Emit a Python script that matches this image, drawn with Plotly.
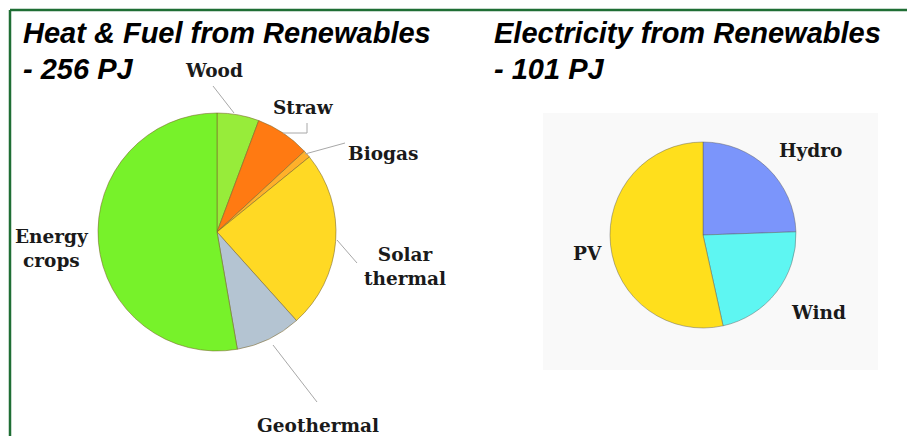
import plotly.graph_objects as go

W, H = 907, 436

# ---- data ----
heat_labels = ["Wood", "Straw", "Biogas", "Solar thermal", "Geothermal", "Energy crops"]
heat_values = [14.6, 19.0, 2.6, 62.0, 22.8, 135.0]          # PJ, total ~256
heat_colors = ["#97ec3a", "#ff7a12", "#ffb02a", "#ffd924", "#b4c4d2", "#77f22a"]

elec_labels = ["Hydro", "Wind", "PV"]
elec_values = [24.7, 22.3, 54.0]                             # PJ, total ~101
elec_colors = ["#7b95fb", "#5ef6f2", "#ffdf1c"]

title_lines = [["Heat & Fuel from Renewables", "- 256 PJ"],
               ["Electricity from Renewables", "- 101 PJ"]]


def px_x(x):
    return x / W


def px_y(y):
    return 1 - y / H


fig = go.Figure()

fig.add_trace(go.Pie(
    labels=heat_labels, values=heat_values, sort=False, direction="clockwise",
    rotation=0, textinfo="none", hoverinfo="label+value+percent",
    marker=dict(colors=heat_colors, line=dict(color="rgba(120,100,40,0.55)", width=1)),
    domain=dict(x=[px_x(98), px_x(336)], y=[px_y(351), px_y(113)]),
    showlegend=False,
))
fig.add_trace(go.Pie(
    labels=elec_labels, values=elec_values, sort=False, direction="clockwise",
    rotation=0, textinfo="none", hoverinfo="label+value+percent",
    marker=dict(colors=elec_colors, line=dict(color="rgba(90,90,90,0.45)", width=1)),
    domain=dict(x=[px_x(610), px_x(796)], y=[px_y(328), px_y(142)]),
    showlegend=False,
))

shapes = []
# faint panel behind right pie
shapes.append(dict(type="rect", xref="paper", yref="paper", layer="below",
                   x0=px_x(543), x1=px_x(878), y0=px_y(370), y1=px_y(113),
                   line=dict(width=0), fillcolor="#f9f9f9"))
# green frame
shapes.append(dict(type="line", xref="paper", yref="paper",
                   x0=px_x(10), x1=1, y0=px_y(10), y1=px_y(10),
                   line=dict(color="#1f6e34", width=2.5)))
shapes.append(dict(type="line", xref="paper", yref="paper",
                   x0=px_x(10), x1=px_x(10), y0=0, y1=px_y(10),
                   line=dict(color="#1f6e34", width=2.5)))
# leader lines
leaders = [
    [(213, 86), (234, 113)],
    [(307, 123), (307, 133), (283, 133)],
    [(345, 143), (305, 154)],
    [(337, 240), (357, 263)],
    [(273, 345), (317, 402)],
]
for pts in leaders:
    for (xa, ya), (xb, yb) in zip(pts[:-1], pts[1:]):
        shapes.append(dict(type="line", xref="paper", yref="paper",
                           x0=px_x(xa), y0=px_y(ya), x1=px_x(xb), y1=px_y(yb),
                           line=dict(color="#a8a8a8", width=1)))

annotations = []
title_font = dict(family="Liberation Sans, Arial", size=29, color="#000000")
for lines, x in zip(title_lines, [22, 493]):
    for line, ymid in zip(lines, [33, 69]):
        annotations.append(dict(text="<b><i>" + line + "</i></b>", xref="paper", yref="paper",
                                x=px_x(x), y=px_y(ymid), xanchor="left", yanchor="middle",
                                align="left", showarrow=False, font=title_font,
                                borderpad=0))

label_font = dict(family="DejaVu Serif", size=18.5, color="#1a1a1a")
label_pos = {
    "Wood": (214, 70), "Straw": (303, 107), "Biogas": (383, 153),
    "Energy<br>crops": (52, 249), "Solar<br>thermal": (405, 266),
    "Geothermal": (318, 425), "Hydro": (810, 150), "PV": (587, 253), "Wind": (818, 312),
}
for txt, (x, y) in label_pos.items():
    annotations.append(dict(text="<b>" + txt + "</b>", xref="paper", yref="paper",
                            x=px_x(x), y=px_y(y), xanchor="center", yanchor="middle",
                            align="center", showarrow=False, font=label_font))

fig.update_layout(
    width=W, height=H, margin=dict(l=0, r=0, t=0, b=0),
    paper_bgcolor="white", plot_bgcolor="white",
    shapes=shapes, annotations=annotations, showlegend=False,
)

fig.write_html("out.html", config={"displayModeBar": False},
               post_script="document.body.style.margin='0';document.body.style.overflow='hidden';")
